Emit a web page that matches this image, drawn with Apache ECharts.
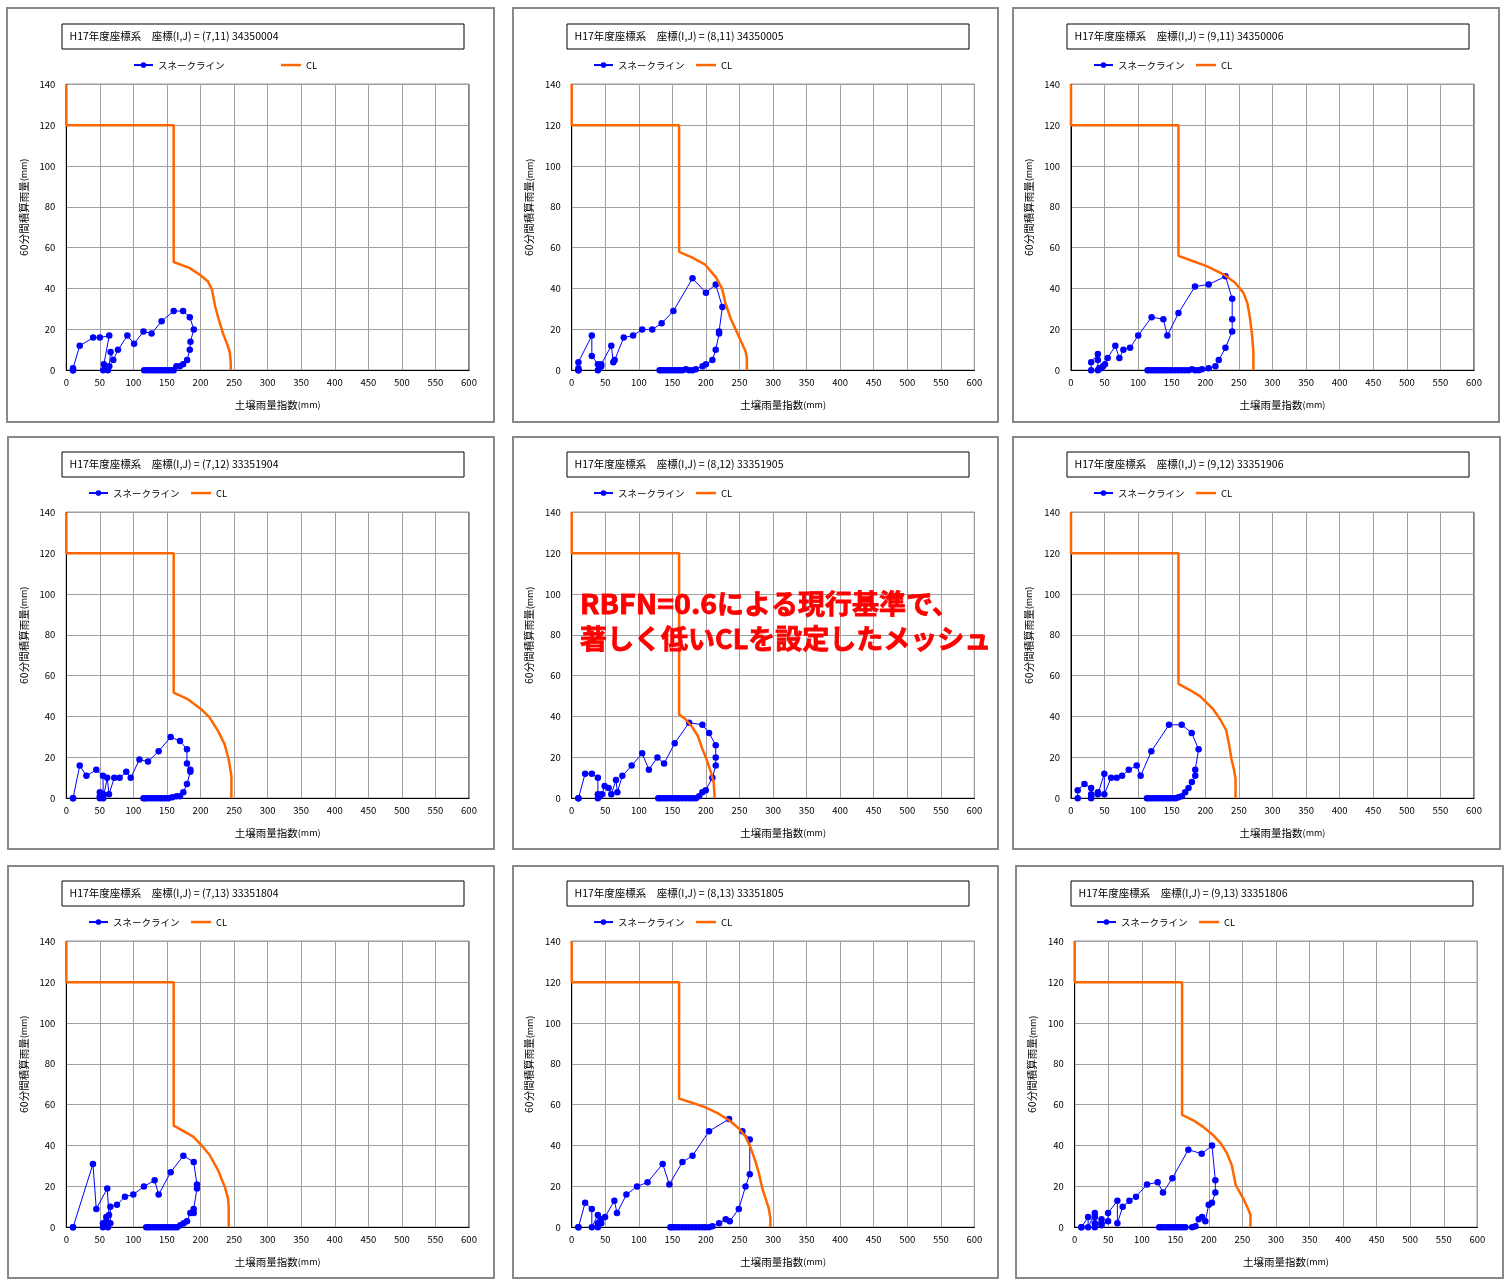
<!DOCTYPE html>
<html>
<head>
<meta charset="utf-8">
<title>スネークライン</title>
<script src="https://cdn.jsdelivr.net/npm/echarts@6/dist/echarts.min.js"></script>
<style>
  html, body { margin: 0; padding: 0; background: #fff; }
  #chart { width: 1506px; height: 1287px; }
</style>
</head>
<body>
<div id="chart"></div>
<script>
// ---- data -------------------------------------------------------------
const meshTitles = [
  'H17年度座標系　座標(I,J) = (7,11) 34350004',
  'H17年度座標系　座標(I,J) = (8,11) 34350005',
  'H17年度座標系　座標(I,J) = (9,11) 34350006',
  'H17年度座標系　座標(I,J) = (7,12) 33351904',
  'H17年度座標系　座標(I,J) = (8,12) 33351905',
  'H17年度座標系　座標(I,J) = (9,12) 33351906',
  'H17年度座標系　座標(I,J) = (7,13) 33351804',
  'H17年度座標系　座標(I,J) = (8,13) 33351805',
  'H17年度座標系　座標(I,J) = (9,13) 33351806'
];
const xTicks = { min: 0, max: 600, step: 50 };
const yTicks = { min: 0, max: 140, step: 20 };
const snakeName = 'スネークライン';
const clName = 'CL';
const xName = '土壌雨量指数{u|(mm)}';
const yName = '60分間積算雨量{u|(mm)}';
const noteHead = 'RBFN=0.6';
const noteLine1 = 'による現行基準で、';
const noteLine2 = '著しく低いCLを設定したメッシュ';

// [土壌雨量指数, 60分間積算雨量]
const snake_7_11 = [[10,0],[10,0],[10,1],[20,12],[40,16],[50,16],[64,17],[56,3],[55,0],[58,1],[62,0],[64,2],[66,9],[70,5],[77,10],[91,17],[101,13],[115,19],[127,18],[142,24],[160,29],[174,29],[184,26],[190,20],[185,14],[184,10],[180,5],[174,3],[169,2],[164,2],[160,0],[156,0],[152,0],[148,0],[144,0],[140,0],[136,0],[132,0],[128,0],[124,0],[120,0],[116,0]];
const cl_7_11 = [[0,140],[0,120],[160,120],[160,53],[184,50],[200,46.5],[211,43.5],[217,39.5],[222,31],[227,25],[233.5,18],[239.5,13],[243.5,9],[245,4],[245,0]];

const snake_8_11 = [[10,0],[10,0],[10,1],[10,4],[30,17],[30,7],[39,3],[39,0],[41,1],[44,2],[44,3],[59,12],[62,4],[64,5],[77.5,16],[91.5,17],[105,20],[120,20],[134,23],[151.5,29],[180,45],[200,38],[214.6,42],[224.5,31],[219.6,19],[219.6,18],[214.6,10],[209.6,5],[200,3],[195,2],[185,0.5],[180,0],[175,0],[170,0.5],[165,0],[161,0],[157,0],[153,0],[149,0],[145,0],[141,0],[137,0],[134,0],[131,0]];
const cl_8_11 = [[0,140],[0,120],[160,120],[160,58],[179,55.3],[199,51.7],[215,45.5],[224,40],[229,33],[236.5,25.6],[249,16.6],[259,9.3],[261,6],[261,0]];

const snake_9_11 = [[30,0],[30,4],[40,8],[40,5],[40,0],[42,1],[44.7,1],[47.6,2],[50.6,3],[54.6,6],[66,12],[72,6],[78,10],[88,11],[100,17],[120,26],[137.5,25],[143.4,17],[160,28],[184.6,41],[205,42],[230,46],[240,35],[240,25],[240,19],[230,11],[220,5],[215,2],[205,1],[195,0.5],[190,0],[185,0],[180,0.5],[175,0],[170,0],[165,0],[160,0],[155,0],[150,0],[146,0],[142,0],[138,0],[134,0],[130,0],[126,0],[122,0],[118,0],[114,0]];
const cl_9_11 = [[0,140],[0,120],[160,120],[160,56],[177,54],[202,51],[227,47],[244,43],[256.6,38],[262.5,33],[266.5,25.6],[269.5,17.5],[271.5,9.3],[271.5,0]];

const snake_7_12 = [[10,0],[10,0],[20,16],[30,11],[44.7,14],[54.6,11],[55,2],[50,0],[50,3],[50,1],[55,0],[61,10],[63.6,2],[71.5,10],[79.5,10],[89.4,13],[96,10],[109,19],[121.7,18],[137.6,23],[155.5,30],[169.4,28],[179.8,24],[179.8,17],[184.8,14],[184.8,13],[179.8,7],[174.4,3],[169.4,1],[164.4,1],[158,0.5],[152,0],[148,0],[144,0],[140,0],[136,0],[132,0],[128,0],[124,0],[120,0],[117,0],[115,0]];
const cl_7_12 = [[0,140],[0,120],[160,120],[160,51.7],[181,48.5],[201,43.6],[213.6,39.5],[226,33],[236,26.4],[242,19],[246,11],[246,0]];

const snake_8_12 = [[10,0],[10,0],[20,12],[30,12],[39,10],[39,2],[39,0],[42,1],[45,2],[49,6],[55,5],[59,2],[66,9],[68,3],[75.5,11],[89.4,16],[105,22],[115,14],[127.7,20],[137.6,17],[153.5,27],[175,37],[194.7,36],[204.7,32],[214.6,26],[214.6,20],[214.6,16],[209.6,10],[199.7,4],[194.7,3],[189.8,1],[185,0],[180,0],[175,0],[170,0],[165,0],[160,0],[156,0],[152,0],[148,0],[144,0],[140,0],[136,0],[132,0],[129,0]];
const cl_8_12 = [[0,140],[0,120],[160,120],[160,41],[169.5,38.7],[179.3,35],[188,30.5],[194,24.8],[201.7,18.3],[207.6,12.6],[211.6,7.7],[213,0]];

const snake_9_12 = [[10,0],[10,4],[20,7],[30,5],[30,2],[30,0],[30,1],[40,3],[40,2],[49.6,12],[49.6,2],[59.6,10],[68,10],[76,11],[86,14],[97.8,16],[103.7,11],[119.6,23],[145.9,36],[164.8,36],[179.7,32],[190,24],[185,14],[185,11],[180,8],[175,5],[170,3],[165,1],[160,0.5],[156,0],[152,0],[148,0],[144,0],[140,0],[136,0],[132,0],[128,0],[124,0],[120,0],[116,0],[113,0]];
const cl_9_12 = [[0,140],[0,120],[160,120],[160,56],[177,53],[192,50],[212,43.5],[222,38.7],[231,33.4],[235,27],[239,19],[242.7,14],[245,9.3],[245,0]];

const snake_7_13 = [[10,0],[10,0],[39.7,31],[44.7,9],[61,19],[63.6,6],[59.6,5],[59.6,3],[54.6,2],[54.6,0],[57,1],[62,0],[65.6,2],[65.6,10],[75.5,11],[87.4,15],[99.8,16],[115.7,20],[131.6,23],[137.6,16],[155.5,27],[174.4,35],[189.8,32],[194.7,21],[194.7,19],[189.8,9],[189.8,7],[184.8,7],[179.8,3],[174.9,2],[169.9,1],[165,0],[161,0],[157,0],[153,0],[149,0],[145,0],[141,0],[137,0],[133,0],[129,0],[125,0],[122,0],[119,0]];
const cl_7_13 = [[0,140],[0,120],[160,120],[160,49.8],[176,46.8],[189,44.4],[201,40.3],[213.6,35.4],[226,28],[236,20],[241,14],[242,10],[242,0]];

const snake_8_13 = [[10,0],[10,0],[20,12],[30,9],[30,0],[39,6],[39,2],[39,0],[44,4],[44,2],[49.7,5],[63.6,13],[67.5,7],[81.5,16],[97.4,20],[113,22],[135.6,31],[145.5,21],[165,32],[180,35],[204.6,47],[234.4,53],[254.3,47],[265.3,43],[265.3,26],[259,20],[249,9],[235.5,3],[229.5,4],[219.6,2],[209.6,0.5],[204.6,0],[199,0],[195,0],[190,0],[185,0],[180,0],[175,0],[170,0],[165,0],[160,0],[156,0],[152,0],[149,0],[147,0]];
const cl_8_13 = [[0,140],[0,120],[160,120],[160,63],[179.3,61],[199,58.7],[216.6,56],[234,52.5],[249,48.4],[259,44.4],[266,39.5],[274,32],[279,26.4],[284,19],[289,14],[293.6,9.3],[296,4.4],[296,0]];

const snake_9_13 = [[10,0],[10,0],[20,5],[20,0],[30,7],[30,5],[30,2],[30,0],[40,4],[40,2],[40,1],[49.7,3],[49.7,7],[63.6,13],[63.6,2],[71.5,10],[81.5,13],[91.4,15],[107.8,21],[123.6,22],[131.6,17],[145.5,24],[169.4,38],[189.2,36],[204.6,40],[209.6,23],[209.6,17],[204.6,12],[199.7,11],[194.7,3],[189.8,5],[184.8,4],[180,0.5],[175,0],[165,0],[161,0],[157,0],[153,0],[149,0],[145,0],[141,0],[137,0],[133,0],[129,0],[126,0]];
const cl_9_13 = [[0,140],[0,120],[160,120],[160,55],[176,52.5],[191,49.3],[206,45.2],[218,41],[227,36.2],[234,30.5],[240,20.7],[251,14.2],[258,9.3],[262,6],[262,0]];

const snakeData = [snake_7_11, snake_8_11, snake_9_11, snake_7_12, snake_8_12, snake_9_12, snake_7_13, snake_8_13, snake_9_13];
const clData = [cl_7_11, cl_8_11, cl_9_11, cl_7_12, cl_8_12, cl_9_12, cl_7_13, cl_8_13, cl_9_13];

// ---- page layout (pixels) ----------------------------------------------
// frame: outer panel box, box: title box, plot: grid rect, lg: legend item x's, ly: legend centre y
const layout = [
  { frame: [7, 8, 487, 414],    box: [62, 24, 402, 25],    plot: [66.3, 84.3, 402.7, 286],   lg: [133, 281],   ly: 64.3 },
  { frame: [513, 8, 485, 414],  box: [567, 24, 402, 25],   plot: [571.7, 84.3, 402.7, 286],  lg: [593, 696],   ly: 64.3 },
  { frame: [1013, 8, 486, 414], box: [1067, 24, 402, 25],  plot: [1071, 84.3, 403, 286],     lg: [1093, 1196], ly: 64.3 },
  { frame: [8, 437, 486, 412],  box: [62, 452, 402, 25],   plot: [66.3, 512.3, 402.7, 286],  lg: [88, 191],    ly: 492.3 },
  { frame: [513, 437, 485, 412],box: [567, 452, 402, 25],  plot: [571.7, 512.3, 402.7, 286], lg: [593, 696],   ly: 492.3 },
  { frame: [1013, 437, 487, 412],box:[1067, 452, 402, 25], plot: [1071, 512.3, 403, 286],    lg: [1093, 1196], ly: 492.3 },
  { frame: [8, 866, 486, 412],  box: [62, 881, 402, 25],   plot: [66.3, 941.3, 402.7, 286],  lg: [88, 191],    ly: 921.3 },
  { frame: [513, 866, 485, 412],box: [567, 881, 402, 25],  plot: [571.7, 941.3, 402.7, 286], lg: [593, 696],   ly: 921.3 },
  { frame: [1016, 866, 487, 412],box:[1071, 881, 402, 25], plot: [1074.7, 941.3, 402.6, 286],lg: [1096, 1199], ly: 921.3 }
];

const FONT = '"Noto Sans CJK JP", "Noto Sans", sans-serif';

const grids = [], xAxes = [], yAxes = [], series = [], legends = [], graphics = [];

layout.forEach((p, i) => {
  grids.push({
    left: p.plot[0], top: p.plot[1], width: p.plot[2], height: p.plot[3],
    show: true, borderColor: '#000', borderWidth: 1, backgroundColor: '#fff'
  });
  xAxes.push({
    type: 'value', gridIndex: i, min: xTicks.min, max: xTicks.max, interval: xTicks.step,
    axisLine: { show: true, onZero: false, lineStyle: { color: '#000', width: 1 } },
    axisTick: { show: false },
    axisLabel: { color: '#000', fontSize: 9.5, margin: 7, fontFamily: FONT },
    splitLine: { show: true, lineStyle: { color: '#a0a0a0', width: 1 } },
    name: xName, nameLocation: 'middle', nameGap: 29,
    nameTextStyle: { color: '#000', fontSize: 10.5, fontFamily: FONT, padding: [0, 0, 0, 20],
      rich: { u: { fontSize: 9, fontFamily: FONT, color: '#000' } } }
  });
  yAxes.push({
    type: 'value', gridIndex: i, min: yTicks.min, max: yTicks.max, interval: yTicks.step,
    axisLine: { show: true, onZero: false, lineStyle: { color: '#000', width: 1 } },
    axisTick: { show: false },
    axisLabel: { color: '#000', fontSize: 9.5, margin: 11, fontFamily: FONT },
    splitLine: { show: true, lineStyle: { color: '#a0a0a0', width: 1 } },
    name: yName, nameLocation: 'middle', nameGap: 37,
    nameTextStyle: { color: '#000', fontSize: 10.5, fontFamily: FONT, padding: [0, 0, 0, 40],
      rich: { u: { fontSize: 9, fontFamily: FONT, color: '#000' } } }
  });
  series.push({
    type: 'line', name: snakeName, xAxisIndex: i, yAxisIndex: i,
    data: snakeData[i], symbol: 'circle', symbolSize: 6.5, showSymbol: true,
    lineStyle: { color: '#0000ff', width: 1 }, itemStyle: { color: '#0000ff' },
    clip: false, z: 2
  });
  series.push({
    type: 'line', name: clName, xAxisIndex: i, yAxisIndex: i,
    data: clData[i], symbol: 'none',
    lineStyle: { color: '#ff6600', width: 2.5 }, itemStyle: { color: '#ff6600' },
    clip: false, z: 3
  });
  legends.push({
    data: [snakeName], left: p.lg[0], top: p.ly - 4, padding: 0, selectedMode: false,
    itemWidth: 19, itemHeight: 7, textStyle: { fontSize: 9.5, color: '#000', fontFamily: FONT }
  });
  legends.push({
    data: [{ name: clName, icon: 'rect' }], left: p.lg[1], top: p.ly - 4, padding: 0, selectedMode: false,
    itemWidth: 20, itemHeight: 2.5, textStyle: { fontSize: 9.5, color: '#000', fontFamily: FONT }
  });
  graphics.push({
    type: 'rect', shape: { x: p.frame[0], y: p.frame[1], width: p.frame[2], height: p.frame[3] },
    style: { fill: 'none', stroke: '#888', lineWidth: 2 }, silent: true, z: 0
  });
  graphics.push({
    type: 'rect', shape: { x: p.box[0], y: p.box[1], width: p.box[2], height: p.box[3] },
    style: { fill: '#fff', stroke: '#000', lineWidth: 1 }, silent: true, z: 1
  });
  graphics.push({
    type: 'text', x: p.box[0] + 7.5, y: p.box[1] + p.box[3] / 2,
    style: { text: meshTitles[i], fill: '#000', fontSize: 10.5, fontFamily: FONT, verticalAlign: 'middle', align: 'left' },
    silent: true, z: 2
  });
});

// red annotation over the (8,12) panel
const noteStyle = { fill: '#ff0000', stroke: '#ff0000', lineWidth: 0.8, fontSize: 27, fontWeight: 'bold', fontFamily: FONT, verticalAlign: 'middle', align: 'left' };
graphics.push({
  type: 'text', x: 580, y: 604, z: 100, silent: true, scaleX: 1.06,
  style: Object.assign({ text: noteHead }, noteStyle)
});
graphics.push({
  type: 'text', x: 717, y: 604, z: 100, silent: true,
  style: Object.assign({ text: noteLine1 }, noteStyle)
});
graphics.push({
  type: 'text', x: 580, y: 639, z: 100, silent: true,
  style: Object.assign({ text: noteLine2 }, noteStyle)
});

const chart = echarts.init(document.getElementById('chart'), null, { renderer: 'canvas' });
chart.setOption({
  animation: false,
  backgroundColor: '#fff',
  textStyle: { fontFamily: FONT },
  grid: grids,
  xAxis: xAxes,
  yAxis: yAxes,
  legend: legends,
  series: series,
  graphic: graphics
});
</script>
</body>
</html>
